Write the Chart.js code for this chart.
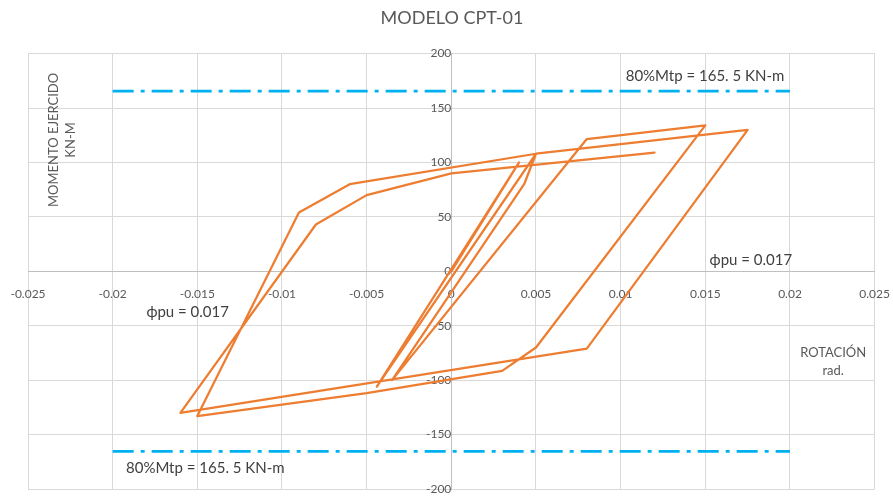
<!DOCTYPE html>
<html>
<head>
<meta charset="utf-8">
<script src="https://cdn.jsdelivr.net/npm/chart.js@4.4.1/dist/chart.umd.min.js"></script>
<style>
html,body{margin:0;padding:0;background:#ffffff;}
#wrap{width:893px;height:500px;}
</style>
</head>
<body>
<div id="wrap"><canvas id="c" width="893" height="500"></canvas></div>
<script>
// ---- data ----
const rotation = [0, 0.004, -0.0044, 0.005, 0.0043, -0.0035, 0.008, 0.015, 0.005, 0.003, -0.005, -0.015, -0.009, -0.006, 0.005, 0.0175, 0.008, -0.016, -0.008, -0.005, 0, 0.012];
const moment   = [0, 100, -106, 108, 80, -100, 121.5, 134, -70, -91.5, -112, -133, 54, 80, 108, 130, -71, -130, 43, 70, 90, 109];

const limitRotation = [-0.02, 0.02];
const limitUpper = [165.5, 165.5];
const limitLower = [-165.5, -165.5];

const xTickValues = [-0.025, -0.02, -0.015, -0.01, -0.005, 0, 0.005, 0.01, 0.015, 0.02, 0.025];
const yTickValues = [-200, -150, -100, -50, 0, 50, 100, 150, 200];

const titleText = 'MODELO CPT-01';
const yTitleLines = ['MOMENTO EJERCIDO', 'KN-M'];
const xTitleLines = ['ROTACIÓN', 'rad.'];
const notes = [
  {text: '80%Mtp = 165. 5 KN-m', x: 0.01498, y: 179},
  {text: '80%Mtp = 165. 5 KN-m', x: -0.01453, y: -181},
  {text: 'ϕpu = 0.017', x: 0.01769, y: 10},
  {text: 'ϕpu = 0.017', x: -0.01557, y: -37.6}
];

const toPoints = (xs, ys) => xs.map((x, i) => ({x: x, y: ys[i]}));

const FONT = 'Lato, "Open Sans", sans-serif';

const textPlugin = {
  id: 'texts',
  afterDatasetsDraw(chart) {
    const ctx = chart.ctx;
    const xs = chart.scales.x, ys = chart.scales.y;
    ctx.save();
    ctx.textAlign = 'center';
    ctx.textBaseline = 'middle';
    ctx.fillStyle = '#404040';
    ctx.font = '15px ' + FONT;
    notes.forEach(n => {
      ctx.fillText(n.text, xs.getPixelForValue(n.x), ys.getPixelForValue(n.y));
    });
    // x axis title (text box at right)
    ctx.fillStyle = '#595959';
    ctx.font = '13px ' + FONT;
    const rx = xs.getPixelForValue(0.02255);
    ctx.fillText(xTitleLines[0], rx, ys.getPixelForValue(-75.3));
    ctx.fillText(xTitleLines[1], rx, ys.getPixelForValue(-91.8));
    // y axis title (rotated text box at left)
    const cy = ys.getPixelForValue(120.7);
    ctx.translate(xs.getPixelForValue(-0.02297), cy);
    ctx.rotate(-Math.PI / 2);
    ctx.fillText(yTitleLines[0], 0, -8.5);
    ctx.fillText(yTitleLines[1], 0, 8.5);
    ctx.restore();
  }
};

new Chart(document.getElementById('c'), {
  type: 'scatter',
  data: {
    datasets: [
      {
        label: 'Momento',
        data: toPoints(rotation, moment),
        showLine: true,
        borderColor: '#ED7D31',
        borderWidth: 2.25,
        borderJoinStyle: 'round',
        borderCapStyle: 'round',
        pointRadius: 0,
        tension: 0,
        order: 1
      },
      {
        label: '80%Mtp +',
        data: toPoints(limitRotation, limitUpper),
        showLine: true,
        borderColor: '#00B0F0',
        borderWidth: 2.75,
        borderDash: [21, 7, 4, 7],
        pointRadius: 0,
        order: 2
      },
      {
        label: '80%Mtp -',
        data: toPoints(limitRotation, limitLower),
        showLine: true,
        borderColor: '#00B0F0',
        borderWidth: 2.75,
        borderDash: [21, 7, 4, 7],
        pointRadius: 0,
        order: 2
      }
    ]
  },
  options: {
    responsive: false,
    animation: false,
    devicePixelRatio: 1,
    layout: {padding: {left: 28, right: 17, top: 0, bottom: 11}},
    plugins: {
      legend: {display: false},
      tooltip: {enabled: false},
      title: {
        display: true,
        text: titleText,
        color: '#595959',
        font: {family: FONT, size: 18, weight: 'normal'},
        padding: {top: 7, bottom: 25}
      }
    },
    scales: {
      x: {
        type: 'linear',
        position: {y: 0},
        min: -0.025,
        max: 0.025,
        afterBuildTicks: (s) => { s.ticks = xTickValues.map(v => ({value: v})); },
        ticks: {
          color: '#595959',
          font: {family: FONT, size: 12},
          padding: 3,
          autoSkip: false,
          maxRotation: 0,
          callback: (v) => String(Number(Number(v).toFixed(4)))
        },
        grid: {color: '#d9d9d9', lineWidth: 1, drawTicks: true, tickLength: 13, tickColor: 'rgba(0,0,0,0)'},
        border: {display: true, color: '#bfbfbf', width: 1}
      },
      y: {
        type: 'linear',
        position: {x: 0},
        min: -200,
        max: 200,
        afterBuildTicks: (s) => { s.ticks = yTickValues.map(v => ({value: v})); },
        ticks: {
          color: '#595959',
          font: {family: FONT, size: 12},
          padding: 3,
          autoSkip: false,
          callback: (v) => String(v)
        },
        grid: {color: '#d9d9d9', lineWidth: 1, drawTicks: true, tickLength: 11, tickColor: 'rgba(0,0,0,0)'},
        border: {display: true, color: '#bfbfbf', width: 1}
      }
    }
  },
  plugins: [textPlugin]
});
</script>
</body>
</html>
